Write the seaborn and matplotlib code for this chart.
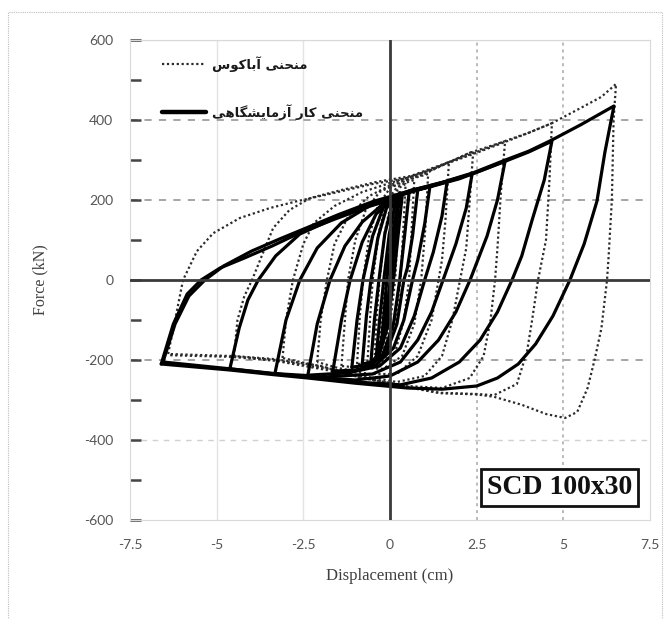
import numpy as np
import pandas as pd
import matplotlib
matplotlib.use("Agg")
import matplotlib.pyplot as plt
import seaborn as sns
from matplotlib.lines import Line2D
from matplotlib.patches import Rectangle
from matplotlib.ticker import MultipleLocator

# ---------------- data ----------------
x_ticks = [-7.5, -5, -2.5, 0, 2.5, 5, 7.5]
x_tick_labels = ["-7.5", "-5", "-2.5", "0", "2.5", "5", "7.5"]
y_ticks = [-600, -400, -200, 0, 200, 400, 600]
y_tick_labels = ["-600", "-400", "-200", "0", "200", "400", "600"]

# experimental curve (solid), one list of (displacement cm, force kN) per cycle
exp_cycle_01 = [(0, 0), (0.08, 80), (0.15, 150), (0.08, 60), (-0.05, -50), (-0.15, -110), (-0.25, -160)]
exp_cycle_02 = [(-0.25, -160), (-0.15, -60), (-0.05, 40), (0.1, 130), (0.25, 195), (0.15, 100), (0.02, 0),
                (-0.15, -120), (-0.4, -195)]
exp_cycle_03 = [(-0.4, -195), (-0.3, -100), (-0.18, 0), (-0.02, 115), (0.15, 190), (0.35, 210), (0.22, 100),
                (0.1, 0), (-0.08, -120), (-0.3, -185), (-0.55, -205)]
exp_cycle_04 = [(-0.55, -205), (-0.45, -100), (-0.32, 0), (-0.15, 115), (0.05, 185), (0.3, 212), (0.55, 218),
                (0.42, 110), (0.28, 0), (0.1, -110), (-0.2, -185), (-0.5, -205), (-0.8, -210)]
exp_cycle_05 = [(-0.8, -210), (-0.68, -90), (-0.55, 0), (-0.35, 105), (-0.1, 180), (0.2, 212), (0.5, 220),
                (0.8, 225), (0.65, 110), (0.5, 30), (0.4, 0), (0.2, -110), (-0.1, -180), (-0.5, -210),
                (-1.1, -218)]
exp_cycle_06 = [(-1.1, -218), (-0.95, -100), (-0.78, 0), (-0.5, 110), (-0.2, 180), (0.2, 212), (0.6, 224),
                (1.15, 233), (1.0, 140), (0.8, 50), (0.65, 0), (0.4, -100), (0.1, -170), (-0.4, -212),
                (-1.0, -225), (-1.65, -228)]
exp_cycle_07 = [(-1.65, -228), (-1.4, -100), (-1.15, 0), (-0.8, 95), (-0.4, 165), (0.1, 205), (0.6, 224),
                (1.1, 235), (1.65, 247), (1.5, 160), (1.25, 70), (1.0, 0), (0.7, -90), (0.3, -170),
                (-0.3, -215), (-1.2, -232), (-2.37, -238)]
exp_cycle_08 = [(-2.37, -238), (-2.1, -110), (-1.73, 0), (-1.3, 85), (-0.8, 145), (-0.2, 190), (0.4, 216),
                (1.0, 230), (1.65, 247), (2.37, 266), (2.2, 180), (1.9, 90), (1.53, 0), (1.2, -80),
                (0.8, -150), (0.3, -205), (-0.5, -235), (-1.8, -242), (-3.32, -234)]
exp_cycle_09 = [(-3.32, -234), (-3.0, -100), (-2.6, 0), (-2.1, 80), (-1.4, 143), (-0.6, 185), (0.3, 214),
                (1.2, 234), (2.0, 253), (2.7, 276), (3.32, 297), (3.1, 200), (2.8, 110), (2.31, 0),
                (1.9, -80), (1.4, -150), (0.8, -205), (0.0, -240), (-1.0, -250), (-2.37, -242),
                (-3.32, -235), (-4.62, -222)]
exp_cycle_10 = [(-4.62, -222), (-4.35, -120), (-4.1, -50), (-3.8, 0), (-3.3, 60), (-2.6, 115), (-1.5, 158),
                (-0.5, 194), (0.5, 218), (1.5, 242), (2.4, 266), (3.3, 296), (4.0, 320), (4.67, 347),
                (4.45, 250), (4.1, 150), (3.8, 60), (3.52, 0), (3.1, -80), (2.6, -150), (2.0, -205),
                (1.2, -245), (0.3, -262), (-1.0, -255), (-2.37, -243), (-3.32, -234), (-4.62, -222),
                (-6.55, -205)]
exp_cycle_11 = [(-6.55, -205), (-6.2, -110), (-5.8, -40), (-5.34, 0), (-4.8, 35), (-4.0, 72), (-3.2, 102),
                (-2.5, 127), (-1.5, 163), (-0.5, 196), (0.5, 221), (1.5, 244), (2.4, 268), (3.3, 299),
                (4.0, 322), (4.67, 350), (5.5, 388), (6.46, 435), (6.2, 320), (5.97, 197), (5.6, 90),
                (5.19, 0), (4.7, -90), (4.2, -160), (3.7, -210), (3.1, -245), (2.5, -265), (1.5, -273),
                (0.5, -270), (-1.0, -258), (-2.37, -245), (-3.32, -237), (-4.62, -225), (-6.6, -210)]
exp_cycle_12 = [(-6.6, -210), (-6.25, -110), (-5.85, -35), (-5.45, 0), (-4.9, 30), (-4.2, 55), (-3.4, 85),
                (-2.6, 118), (-1.6, 152), (-0.6, 184), (0.2, 205)]

# Abaqus curve (dotted)
abq_cycle_01 = [(0, 0), (0.1, 110), (0.2, 200), (0.12, 90), (0.05, 0), (-0.1, -90), (-0.3, -170)]
abq_cycle_02 = [(-0.3, -170), (-0.22, -80), (-0.15, 0), (0.0, 120), (0.15, 200), (0.3, 225), (0.22, 120),
                (0.15, 0), (0.0, -110), (-0.2, -180), (-0.45, -200)]
abq_cycle_03 = [(-0.45, -200), (-0.38, -90), (-0.3, 0), (-0.15, 120), (0.05, 200), (0.25, 230), (0.45, 240),
                (0.38, 120), (0.3, 0), (0.15, -110), (-0.1, -180), (-0.4, -202), (-0.65, -205)]
abq_cycle_04 = [(-0.65, -205), (-0.57, -90), (-0.5, 0), (-0.32, 120), (-0.1, 195), (0.2, 232), (0.45, 243),
                (0.7, 250), (0.62, 120), (0.55, 0), (0.4, -100), (0.15, -180), (-0.3, -208), (-0.95, -210)]
abq_cycle_05 = [(-0.95, -210), (-0.87, -90), (-0.78, 0), (-0.6, 110), (-0.35, 185), (0.0, 230), (0.5, 250),
                (1.1, 265), (1.02, 130), (0.9, 0), (0.7, -110), (0.35, -190), (-0.2, -222), (-0.8, -220),
                (-1.4, -215)]
abq_cycle_06 = [(-1.4, -215), (-1.3, -100), (-1.21, 0), (-1.0, 100), (-0.7, 175), (-0.3, 220), (0.3, 245),
                (1.0, 265), (1.7, 295), (1.6, 150), (1.5, 50), (1.4, 0), (1.2, -100), (0.8, -190),
                (0.2, -235), (-0.6, -235), (-1.5, -220), (-2.1, -205)]
abq_cycle_07 = [(-2.1, -205), (-2.0, -100), (-1.82, 0), (-1.6, 90), (-1.2, 160), (-0.6, 210), (0.2, 245),
                (1.0, 270), (1.8, 298), (2.4, 322), (2.3, 200), (2.2, 80), (2.02, 0), (1.8, -100),
                (1.5, -190), (1.0, -240), (0.2, -255), (-0.8, -240), (-1.8, -220), (-3.1, -195)]
abq_cycle_08 = [(-3.1, -195), (-3.0, -100), (-2.8, 0), (-2.5, 90), (-2.2, 142), (-1.6, 185), (-0.8, 220),
                (0.2, 248), (1.2, 275), (2.3, 318), (3.32, 347), (3.2, 220), (3.1, 80), (3.03, 0),
                (2.9, -100), (2.7, -190), (2.3, -245), (1.5, -270), (0.5, -265), (-0.8, -245), (-2.0, -215),
                (-3.3, -198), (-4.5, -190)]
abq_cycle_09 = [(-4.5, -190), (-4.4, -100), (-4.2, -40), (-3.98, 0), (-3.7, 60), (-3.37, 130), (-2.9, 175),
                (-2.3, 205), (-1.4, 225), (-0.4, 245), (0.6, 260), (1.7, 295), (2.5, 320), (3.4, 350),
                (4.0, 368), (4.67, 392), (4.6, 250), (4.5, 100), (4.27, 0), (4.1, -100), (3.95, -180),
                (3.66, -260), (3.0, -288), (2.5, -285), (1.44, -282), (0.0, -258), (-1.64, -225),
                (-3.3, -200), (-4.6, -190), (-6.4, -185)]
abq_cycle_10 = [(-6.4, -185), (-6.2, -100), (-5.97, 0), (-5.57, 72), (-5.1, 117), (-4.33, 155), (-3.46, 180),
                (-2.68, 197), (-1.6, 218), (-0.5, 240), (0.5, 255), (1.7, 293), (2.5, 318), (3.32, 345),
                (4.0, 368), (4.67, 392), (5.5, 430), (6.1, 458), (6.52, 490), (6.45, 400), (6.4, 200),
                (6.3, 50), (6.26, 0), (6.1, -120), (5.9, -200), (5.7, -270), (5.4, -330), (5.05, -345),
                (4.5, -335), (3.8, -312), (3.0, -292), (2.5, -286), (1.44, -283), (0.0, -260),
                (-1.64, -228), (-3.3, -202), (-4.6, -192), (-6.4, -188)]

exp_cycles = [exp_cycle_01, exp_cycle_02, exp_cycle_03, exp_cycle_04, exp_cycle_05, exp_cycle_06,
              exp_cycle_07, exp_cycle_08, exp_cycle_09, exp_cycle_10, exp_cycle_11, exp_cycle_12]
abq_cycles = [abq_cycle_01, abq_cycle_02, abq_cycle_03, abq_cycle_04, abq_cycle_05, abq_cycle_06,
              abq_cycle_07, abq_cycle_08, abq_cycle_09, abq_cycle_10]

# Persian legend labels (logical text), displayed with pre-joined glyphs in visual order
label_abaqus = "منحنی آباکوس"
label_exp = "منحنی کار آزمایشگاهی"
label_abaqus_visual = "\uFEB1\uFEEE\uFB90\uFE8E\uFE91\uFE81 \uFBFD\uFEE8\uFEA4\uFEE8\uFEE3"
label_exp_visual = ("\uFBFD\uFEEB\uFE8E\uFB95\uFEB8\uFBFE\uFE8E\uFEE3\uFEAF\uFE81 "
                    "\uFEAD\uFE8E\uFB90 \uFBFD\uFEE8\uFEA4\uFEE8\uFEE3")
specimen_label = "SCD 100x30"
x_label = "Displacement (cm)"
y_label = "Force (kN)"


def to_frame(cycles):
    rows = []
    k = 0
    for ci, cyc in enumerate(cycles):
        for (x, y) in cyc:
            rows.append({"cycle": ci, "order": k, "disp": x, "force": y})
            k += 1
    return pd.DataFrame(rows)


df_exp = to_frame(exp_cycles)
df_abq = to_frame(abq_cycles)

# ---------------- figure ----------------
sns.set_style("white")
plt.rcParams["axes.unicode_minus"] = False

fig = plt.figure(figsize=(6.67, 6.19), dpi=100)
ax = fig.add_axes([130 / 667, 1 - 520 / 619, 520 / 667, 480 / 619])

# outer dotted frame of the picture
fig.patches.append(Rectangle((8 / 667, -0.02), 654 / 667, 1 - 12 / 619 + 0.02,
                             transform=fig.transFigure, fill=False, ec="#bdbdbd",
                             lw=0.8, ls=(0, (1, 1)), zorder=0))

ax.set_xlim(-7.5, 7.5)
ax.set_ylim(-600, 600)

# grid
for gx in [-5, -2.5]:
    ax.axvline(gx, color="#e3e3e3", lw=1.0, zorder=0)
for gx in [2.5, 5]:
    ax.axvline(gx, color="#a8a8a8", lw=1.1, ls=(0, (2, 2.5)), zorder=0)
for gy in [400, 200, -200]:
    ax.axhline(gy, color="#9e9e9e", lw=1.3, ls=(0, (4, 4)), zorder=0)
ax.axhline(-400, color="#d0d0d0", lw=1.0, ls=(0, (4, 4)), zorder=0)
ax.axhline(600, color="#e3e3e3", lw=1.0, zorder=0)

# curves
sns.lineplot(data=df_abq, x="disp", y="force", units="cycle", estimator=None, sort=False,
             color="#2b2b2b", lw=1.6, linestyle=(0, (1, 1.2)), ax=ax, legend=False, zorder=3)
sns.lineplot(data=df_exp, x="disp", y="force", units="cycle", estimator=None, sort=False,
             color="black", lw=2.3, ax=ax, legend=False, zorder=4)

# zero axes
ax.axhline(0, color="#3a3a3a", lw=2.0, zorder=5)
ax.axvline(0, color="#3a3a3a", lw=2.0, zorder=5)

# ticks
ax.set_xticks(x_ticks)
ax.set_xticklabels(x_tick_labels)
ax.set_yticks(y_ticks)
ax.set_yticklabels(y_tick_labels)
ax.yaxis.set_minor_locator(MultipleLocator(100))
tick_font = "Lato"
for lab in ax.get_xticklabels() + ax.get_yticklabels():
    lab.set_fontfamily(tick_font)
    lab.set_fontsize(10)
    lab.set_color("#555555")
ax.tick_params(axis="y", which="both", left=True, direction="in", length=8, width=1.8,
               color="#444444", pad=12)
ax.tick_params(axis="x", which="both", bottom=False, length=0, pad=14)

for s in ax.spines.values():
    s.set_color("#d9d9d9")
    s.set_linewidth(0.8)

ax.set_xlabel(x_label, family="Liberation Serif", fontsize=12, color="#404040", labelpad=12)
ax.set_ylabel(y_label, family="Liberation Serif", fontsize=11.5, color="#404040", labelpad=26)

# legend
handles = [Line2D([], [], color="#2b2b2b", lw=1.6, ls=(0, (1, 1.2))),
           Line2D([], [], color="black", lw=3.2)]
leg = ax.legend(handles, [label_abaqus_visual, label_exp_visual], loc="upper left",
                bbox_to_anchor=(0.062, 0.967), frameon=False, handlelength=3.3,
                handletextpad=0.5, labelspacing=2.45, borderpad=0, borderaxespad=0,
                prop={"family": "DejaVu Sans", "size": 9.5, "weight": "bold"})
for t in leg.get_texts():
    t.set_color("#1a1a1a")

# specimen box
ax.text(0.826, 0.068, specimen_label, transform=ax.transAxes, ha="center", va="center",
        fontsize=20, fontweight="bold", family="Liberation Serif", color="#111111", zorder=6,
        bbox=dict(boxstyle="square,pad=0.22", fc="white", ec="#111111", lw=2.0))

fig.savefig("out.png", dpi=100)
